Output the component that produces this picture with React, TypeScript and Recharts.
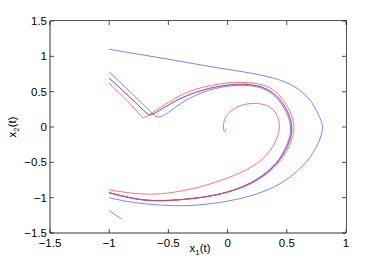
import { LineChart, Line, XAxis, YAxis } from "recharts";

// trajectories in the (x1, x2) plane
const blueOuter: [number, number][] = [
  [-1, 1.1], [-0.75, 1.03], [-0.5, 0.96], [-0.25, 0.885], [-0.06, 0.83],
  [0.22, 0.76], [0.4, 0.69], [0.5, 0.63], [0.58, 0.56], [0.64, 0.48],
  [0.69, 0.4], [0.73, 0.3], [0.77, 0.17], [0.795, 0.07], [0.805, 0],
  [0.795, -0.1], [0.775, -0.2], [0.745, -0.3], [0.69, -0.45], [0.62, -0.58],
  [0.53, -0.71], [0.43, -0.82], [0.3, -0.92], [0.15, -1.0], [0, -1.05],
  [-0.15, -1.09], [-0.35, -1.12], [-0.55, -1.11], [-0.75, -1.08],
  [-0.9, -1.04], [-1, -1.0],
];

const blueTail: [number, number][] = [[-1, -1.18], [-0.9, -1.3]];

const blueRing: [number, number][] = [
  [-1, 0.78], [-0.9, 0.62], [-0.8, 0.46], [-0.7, 0.3], [-0.63, 0.18],
  [-0.6, 0.14], [-0.57, 0.14], [-0.5, 0.2], [-0.42, 0.31], [-0.32, 0.41],
  [-0.22, 0.49], [-0.1, 0.55], [0.02, 0.585], [0.14, 0.595], [0.25, 0.575],
  [0.34, 0.52], [0.42, 0.41], [0.48, 0.27], [0.52, 0.12], [0.535, 0],
  [0.53, -0.12], [0.5, -0.26], [0.46, -0.4], [0.4, -0.53], [0.31, -0.67],
  [0.19, -0.8], [0.05, -0.9], [-0.1, -0.965], [-0.25, -1.005], [-0.4, -1.03],
  [-0.55, -1.045], [-0.7, -1.04], [-0.85, -0.995], [-1, -0.93],
];

const midPath: [number, number][] = [
  [-1, 0.69], [-0.92, 0.57], [-0.83, 0.43], [-0.75, 0.3], [-0.69, 0.2],
  [-0.665, 0.17], [-0.64, 0.17], [-0.58, 0.23], [-0.5, 0.31], [-0.42, 0.39],
  [-0.32, 0.46], [-0.22, 0.52], [-0.1, 0.57], [0.02, 0.6], [0.14, 0.61],
  [0.25, 0.59], [0.35, 0.53], [0.43, 0.42], [0.49, 0.28], [0.53, 0.13],
  [0.545, 0], [0.54, -0.12], [0.51, -0.26], [0.465, -0.4], [0.41, -0.53],
  [0.32, -0.67], [0.2, -0.8], [0.05, -0.9], [-0.1, -0.965], [-0.25, -1.005],
  [-0.4, -1.03], [-0.55, -1.045], [-0.7, -1.04], [-0.85, -0.995], [-1, -0.93],
];

const redRing: [number, number][] = [
  [-1, 0.62], [-0.92, 0.49], [-0.84, 0.36], [-0.78, 0.25], [-0.74, 0.17],
  [-0.715, 0.13], [-0.69, 0.14], [-0.6, 0.24], [-0.5, 0.35], [-0.42, 0.43],
  [-0.32, 0.51], [-0.2, 0.57], [-0.06, 0.615], [0.06, 0.635], [0.2, 0.63],
  [0.3, 0.6], [0.38, 0.54], [0.45, 0.43], [0.51, 0.29], [0.55, 0.13],
  [0.565, 0], [0.555, -0.12], [0.525, -0.26], [0.48, -0.4], [0.42, -0.53],
  [0.33, -0.67], [0.21, -0.8], [0.06, -0.9], [-0.1, -0.965], [-0.25, -1.005],
  [-0.4, -1.03], [-0.55, -1.045], [-0.7, -1.04], [-0.85, -0.995], [-1, -0.93],
];

const redSpiral: [number, number][] = [
  [-0.014, -0.02], [-0.02, -0.07], [-0.03, -0.07], [-0.036, -0.02],
  [-0.035, 0.06], [-0.015, 0.16], [0.04, 0.25], [0.11, 0.31], [0.2, 0.34],
  [0.29, 0.33], [0.36, 0.29], [0.41, 0.2], [0.435, 0.1], [0.44, 0.0],
  [0.43, -0.1], [0.405, -0.21], [0.365, -0.33], [0.3, -0.45], [0.22, -0.55],
  [0.12, -0.64], [0.02, -0.71], [-0.1, -0.78], [-0.23, -0.85],
  [-0.37, -0.9], [-0.51, -0.94], [-0.65, -0.955], [-0.8, -0.94],
  [-0.9, -0.915], [-1, -0.89],
];

const xTicks = [-1.5, -1, -0.5, 0, 0.5, 1];
const yTicks = [-1.5, -1, -0.5, 0, 0.5, 1, 1.5];
const X_MIN = -1.5, X_MAX = 1, Y_MIN = -1.5, Y_MAX = 1.5;

const W = 382, H = 263;
const M = { top: 21, right: 36, bottom: 10, left: 10 };
const X_AXIS_H = 20, Y_AXIS_W = 40;
// plot box, matching what recharts lays out from the margins above
const PL = M.left + Y_AXIS_W;
const PT = M.top;
const PR = W - M.right;
const PB = H - M.bottom - X_AXIS_H;

const BLUE = "#4a5cff";
const RED = "#ff3a3a";
const FONT = "'Liberation Sans', Arial, sans-serif";

const toRows = (pts: [number, number][]) => pts.map(([x, y]) => ({ x, y }));
const fmt = (v: number) => String(v).replace("-", "\u2212");

const series = [
  { key: "blueOuter", pts: blueOuter, color: BLUE, op: 0.75 },
  { key: "blueTail", pts: blueTail, color: BLUE, op: 0.75 },
  { key: "blueRing", pts: blueRing, color: BLUE, op: 0.75 },
  { key: "blueMid", pts: midPath, color: BLUE, op: 0.9 },
  { key: "redMid", pts: midPath, color: RED, op: 0.55 },
  { key: "redRing", pts: redRing, color: RED, op: 0.7 },
  { key: "redSpiral", pts: redSpiral, color: RED, op: 0.7 },
];

const BottomTick = ({ x, y, payload }: any) => (
  <g>
    <line x1={x} y1={y} x2={x} y2={y - 4} stroke="#000" strokeWidth={0.7} />
    <text x={x} y={y + 14} textAnchor="middle" fontSize={11.5} fontFamily={FONT} fill="#000">
      {fmt(payload.value)}
    </text>
  </g>
);

const LeftTick = ({ x, y, payload }: any) => (
  <g>
    <line x1={x} y1={y} x2={x + 4} y2={y} stroke="#000" strokeWidth={0.7} />
    <text x={x - 3} y={y + 4} textAnchor="end" fontSize={11.5} fontFamily={FONT} fill="#000">
      {fmt(payload.value)}
    </text>
  </g>
);

const XLabel = ({ viewBox }: any) => (
  <text
    x={viewBox.x + viewBox.width / 2 + 2}
    y={viewBox.y + 19}
    textAnchor="middle"
    fontSize={11.5}
    fontFamily={FONT}
    fill="#000"
  >
    <tspan>x</tspan>
    <tspan dy={3} fontSize={8}>1</tspan>
    <tspan dy={-3}>(t)</tspan>
  </text>
);

const YLabel = ({ viewBox }: any) => {
  const cx = 16;
  const cy = viewBox.y + viewBox.height / 2;
  return (
    <text
      x={cx}
      y={cy}
      transform={`rotate(-90, ${cx}, ${cy})`}
      textAnchor="middle"
      fontSize={11.5}
      fontFamily={FONT}
      fill="#000"
    >
      <tspan>x</tspan>
      <tspan dy={3} fontSize={8}>2</tspan>
      <tspan dy={-3}>(t)</tspan>
    </text>
  );
};

// top and right edges of the matlab-style box (css border) plus inward ticks
function BoxEdges() {
  const sx = (t: number) => PL + ((t - X_MIN) / (X_MAX - X_MIN)) * (PR - PL);
  const sy = (t: number) => PT + ((Y_MAX - t) / (Y_MAX - Y_MIN)) * (PB - PT);
  return (
    <>
      <div
        style={{
          position: "absolute",
          left: PL,
          top: PT - 1,
          width: PR - PL,
          height: PB - PT,
          borderTop: "1px solid #555",
          borderRight: "1px solid #555",
          boxSizing: "content-box",
          pointerEvents: "none",
          zIndex: 2,
        }}
      />
      <svg
        width={W}
        height={H}
        style={{ position: "absolute", left: 0, top: 0, pointerEvents: "none", zIndex: 3 }}
      >
        {xTicks.map((t) => (
          <line key={`tx${t}`} x1={sx(t)} y1={PT} x2={sx(t)} y2={PT + 4} stroke="#000" strokeWidth={0.7} />
        ))}
        {yTicks.map((t) => (
          <line key={`ty${t}`} x1={PR} y1={sy(t)} x2={PR - 4} y2={sy(t)} stroke="#000" strokeWidth={0.7} />
        ))}
      </svg>
    </>
  );
}

export default function App() {
  return (
    <div style={{ position: "relative", margin: -8, width: W, height: H, background: "#fff" }}>
      <LineChart width={W} height={H} margin={M}>
        <XAxis
          type="number"
          dataKey="x"
          domain={[X_MIN, X_MAX]}
          ticks={xTicks}
          height={X_AXIS_H}
          tickSize={0}
          tickMargin={0}
          tickLine={false}
          tick={<BottomTick />}
          axisLine={{ stroke: "#000", strokeWidth: 0.8 }}
          label={<XLabel />}
        />
        <YAxis
          type="number"
          dataKey="y"
          domain={[Y_MIN, Y_MAX]}
          ticks={yTicks}
          width={Y_AXIS_W}
          tickSize={0}
          tickMargin={0}
          tickLine={false}
          tick={<LeftTick />}
          axisLine={{ stroke: "#000", strokeWidth: 0.8 }}
          label={<YLabel />}
        />
        {series.map((s) => (
          <Line
            key={s.key}
            data={toRows(s.pts)}
            dataKey="y"
            type="basis"
            stroke={s.color}
            strokeOpacity={s.op}
            strokeWidth={1}
            dot={false}
            activeDot={false}
            isAnimationActive={false}
          />
        ))}
      </LineChart>
      <BoxEdges />
    </div>
  );
}
